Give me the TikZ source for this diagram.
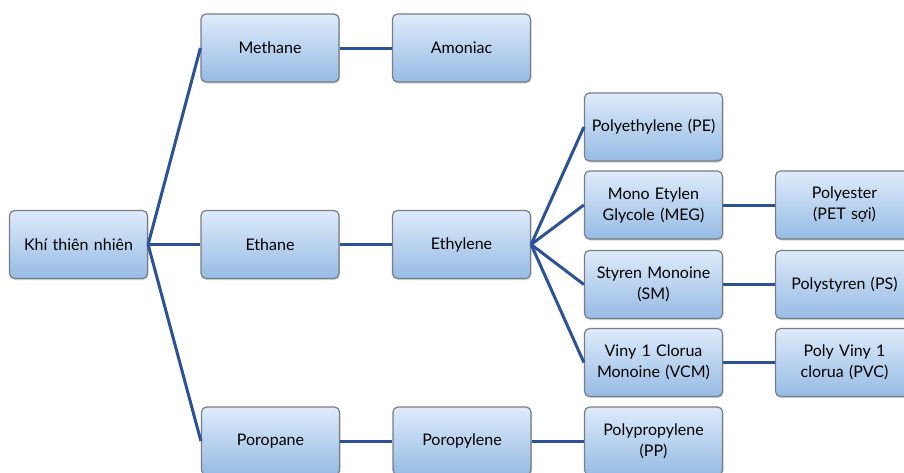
\documentclass[tikz,border=0pt]{standalone}
\usepackage{fontspec}
\setmainfont{Lato}
\usetikzlibrary{shadows}
\definecolor{linkblue}{RGB}{44,82,150}
\definecolor{boxtop}{RGB}{222,235,250}
\definecolor{boxbot}{RGB}{150,187,228}
\definecolor{boxedge}{RGB}{120,125,135}
\tikzset{
  box/.style={draw=boxedge, line width=1.2pt, rounded corners=5pt,
    top color=boxtop, bottom color=boxbot,
    minimum width=137pt, minimum height=68pt, inner sep=2pt,
    align=center, text width=134pt, font=\fontsize{16}{21}\selectfont,
    drop shadow={opacity=0.35, shadow xshift=1pt, shadow yshift=-1.5pt}},
  link/.style={draw=linkblue, line width=3pt}
}
\begin{document}
\begin{tikzpicture}[x=1pt,y=-1pt]
\useasboundingbox (0,0) rectangle (904,472);
\fill[white] (0,0) rectangle (904,472);
\begin{scope}
\clip (0,0) rectangle (904,472);
\coordinate (hub) at (147,244.5);
\coordinate (ehub) at (530,244.5);
% boxes
\node[box] (khi) at (78.5,244.5) {Khí thiên nhiên};
\node[box] (methane) at (270,48) {Methane};
\node[box] (amoniac) at (461.5,48) {Amoniac};
\node[box] (ethane) at (270,244.5) {Ethane};
\node[box] (ethylene) at (461.5,244.5) {Ethylene};
\node[box] (poropane) at (270.5,441) {Poropane};
\node[box] (poropylene) at (462,441) {Poropylene};
\node[box] (pe) at (653.5,127) {Polyethylene (PE)};
\node[box] (meg) at (653.5,205) {Mono Etylen\\Glycole (MEG)};
\node[box] (sm) at (653.5,284.5) {Styren Monoine\\(SM)};
\node[box] (vcm) at (653.5,362.5) {Viny 1 Clorua\\Monoine (VCM)};
\node[box] (pp) at (653.5,441) {Polypropylene\\(PP)};
\node[box] (polyester) at (844.5,205) {Polyester\\(PET sợi)};
\node[box] (ps) at (844.5,284.5) {Polystyren (PS)};
\node[box] (pvc) at (844.5,362.5) {Poly Viny 1\\clorua (PVC)};
% links
\draw[link] (khi.east) -- (methane.west);
\draw[link] (khi.east) -- (ethane.west);
\draw[link] (khi.east) -- (poropane.west);
\draw[link] (methane) -- (amoniac);
\draw[link] (ethane) -- (ethylene);
\draw[link] (poropane) -- (poropylene);
\draw[link] (ethylene.east) -- (pe.west);
\draw[link] (ethylene.east) -- (meg.west);
\draw[link] (ethylene.east) -- (sm.west);
\draw[link] (ethylene.east) -- (vcm.west);
\draw[link] (poropylene) -- (pp);
\draw[link] (meg) -- (polyester);
\draw[link] (sm) -- (ps);
\draw[link] (vcm) -- (pvc);
\end{scope}
\end{tikzpicture}
\end{document}
